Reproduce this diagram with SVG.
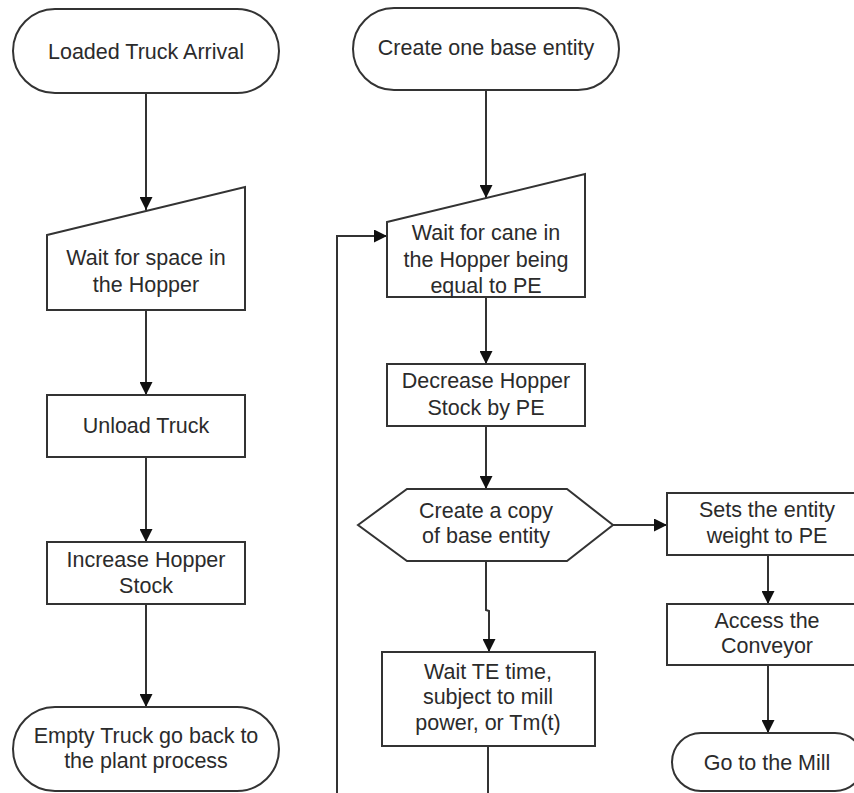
<svg xmlns="http://www.w3.org/2000/svg" width="854" height="793" viewBox="0 0 854 793">
  <style>
    .shape { fill: #ffffff; stroke: #333333; stroke-width: 2; }
    .lbl { font-family: "Liberation Sans", Arial, sans-serif; font-size: 21.5px; fill: #2b2b2b; text-anchor: middle; }
    .conn { fill: none; stroke: #333333; stroke-width: 2; }
    .conn-arrow { fill: none; stroke: #333333; stroke-width: 2; marker-end: url(#arrowhead); }
  </style>
  <defs>
    <marker id="arrowhead" markerUnits="userSpaceOnUse" markerWidth="13" markerHeight="13" refX="13" refY="6.5" orient="auto">
      <path d="M0,0 L13,6.5 L0,13 z" fill="#111111"/>
    </marker>
  </defs>
  <rect width="854" height="793" fill="#ffffff"/>

  <!-- connectors -->
  <g id="connectors">
    <!-- truck flow -->
    <path class="conn-arrow" d="M146,93 V210"/>
    <path class="conn-arrow" d="M146,310 V395"/>
    <path class="conn-arrow" d="M146,457 V542"/>
    <path class="conn-arrow" d="M146,604 V707"/>
    <!-- base entity flow -->
    <path class="conn-arrow" d="M486,90 V198"/>
    <path class="conn-arrow" d="M486,297 V364"/>
    <path class="conn-arrow" d="M486,426 V489"/>
    <path class="conn-arrow" d="M486,561 V610 L489,611 V652"/>
    <path class="conn" d="M488,746 V793"/>
    <!-- loop back to the hopper wait -->
    <path class="conn-arrow" d="M337,793 V236 H387"/>
    <!-- copy branch -->
    <path class="conn-arrow" d="M613,525 H667"/>
    <path class="conn-arrow" d="M768,555 V604"/>
    <path class="conn-arrow" d="M768,665 V733"/>
  </g>

  <!-- truck column -->
  <g id="loaded-truck-arrival">
    <rect class="shape" x="13" y="9" width="266" height="84" rx="42" ry="42"/>
    <text class="lbl" x="146" y="59">Loaded Truck Arrival</text>
  </g>
  <g id="wait-space">
    <polygon class="shape" points="47,235 245,187 245,310 47,310"/>
    <text class="lbl" x="146" y="265">Wait for space in</text>
    <text class="lbl" x="146" y="292">the Hopper</text>
  </g>
  <g id="unload-truck">
    <rect class="shape" x="47" y="395" width="198" height="62"/>
    <text class="lbl" x="146" y="433">Unload Truck</text>
  </g>
  <g id="increase-stock">
    <rect class="shape" x="47" y="542" width="198" height="62"/>
    <text class="lbl" x="146" y="567">Increase Hopper</text>
    <text class="lbl" x="146" y="593">Stock</text>
  </g>
  <g id="empty-truck">
    <rect class="shape" x="13" y="707" width="266" height="84" rx="42" ry="42"/>
    <text class="lbl" x="146" y="743">Empty Truck go back to</text>
    <text class="lbl" x="146" y="768">the plant process</text>
  </g>

  <!-- base entity column -->
  <g id="create-base">
    <rect class="shape" x="353" y="8" width="266" height="82" rx="41" ry="41"/>
    <text class="lbl" x="486" y="55">Create one base entity</text>
  </g>
  <g id="wait-cane">
    <polygon class="shape" points="387,222 585,174 585,297 387,297"/>
    <text class="lbl" x="486" y="240">Wait for cane in</text>
    <text class="lbl" x="486" y="267">the Hopper being</text>
    <text class="lbl" x="486" y="293">equal to PE</text>
  </g>
  <g id="decrease-stock">
    <rect class="shape" x="387" y="364" width="198" height="62"/>
    <text class="lbl" x="486" y="388">Decrease Hopper</text>
    <text class="lbl" x="486" y="415">Stock by PE</text>
  </g>
  <g id="copy-entity">
    <polygon class="shape" points="358,525 407,489 567,489 613,525 567,561 407,561"/>
    <text class="lbl" x="486" y="518">Create a copy</text>
    <text class="lbl" x="486" y="543">of base entity</text>
  </g>
  <g id="wait-te">
    <rect class="shape" x="382" y="652" width="213" height="94"/>
    <text class="lbl" x="488" y="679">Wait TE time,</text>
    <text class="lbl" x="488" y="704">subject to mill</text>
    <text class="lbl" x="488" y="730">power, or Tm(t)</text>
  </g>

  <!-- copy branch column -->
  <g id="set-weight">
    <rect class="shape" x="667" y="493" width="202" height="62"/>
    <text class="lbl" x="767" y="517">Sets the entity</text>
    <text class="lbl" x="767" y="543">weight to PE</text>
  </g>
  <g id="access-conveyor">
    <rect class="shape" x="667" y="604" width="202" height="61"/>
    <text class="lbl" x="767" y="628">Access the</text>
    <text class="lbl" x="767" y="653">Conveyor</text>
  </g>
  <g id="go-mill">
    <rect class="shape" x="672" y="733" width="192" height="58" rx="29" ry="29"/>
    <text class="lbl" x="767" y="770">Go to the Mill</text>
  </g>
</svg>
